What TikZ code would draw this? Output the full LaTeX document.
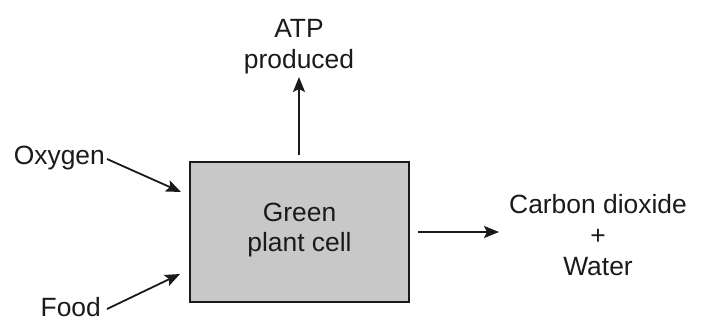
\documentclass[tikz,border=0pt]{standalone}
\usepackage{fontspec}
\setmainfont{Liberation Sans}
\usetikzlibrary{arrows.meta}
\definecolor{cellgray}{HTML}{C8C8C8}
\definecolor{inkc}{HTML}{1A1A1A}
\begin{document}
\begin{tikzpicture}[x=1bp,y=-1bp,
  lbl/.style={inner sep=0pt,align=center,text=inkc,font=\fontsize{26.5}{31}\selectfont},
  arr/.style={draw=inkc,line width=1.8bp,-{Stealth[length=15bp,width=12bp,inset=3bp]}},
  cellbox/.style={draw=inkc,line width=2bp,fill=cellgray,minimum width=219bp,minimum height=140bp,inner sep=0pt}]
\useasboundingbox (0,0) rectangle (715,332);
\node[cellbox] (cell) at (299.5,232) {};
\node[lbl] (celltxt) at (299.5,230) {Green\\plant cell};
\node[lbl] (atp) at (299,47) {ATP\\produced};
\node[lbl,anchor=east] (oxy) at (105,158) {Oxygen};
\node[lbl,anchor=east] (food) at (101,307) {Food};
\node[lbl] (co2) at (598,235) {Carbon dioxide\\+\\Water};
\coordinate (atpS) at (299,155);
\coordinate (atpE) at (299,77);
\coordinate (oxyE) at (181,192);
\coordinate (foodE) at (180,274);
\coordinate (co2S) at (418,232);
\coordinate (co2E) at (499,232);
\draw[arr] (atpS) -- (atpE);
\draw[arr] (oxy.east) ++(2,1) -- (oxyE);
\draw[arr] (food.east) ++(6,2) -- (foodE);
\draw[arr] (co2S) -- (co2E);
\end{tikzpicture}
\end{document}
